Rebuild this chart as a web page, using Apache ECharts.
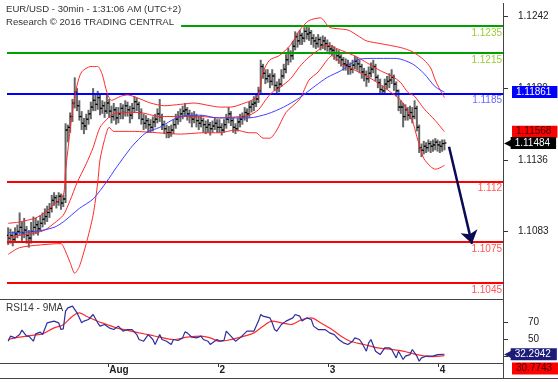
<!DOCTYPE html>
<html><head><meta charset="utf-8">
<script src="https://cdn.jsdelivr.net/npm/echarts@6/dist/echarts.min.js"></script>
<style>html,body{margin:0;padding:0;background:#fff}#c{width:558px;height:382px}</style>
</head><body><div id="c"></div>
<script>
// ---------- DATA ----------
const slotCount = 216;
const dayStartIndex = [44, 92, 140, 188];
const dayLabels = ['Aug', '2', '3', '4'];
const priceTicks = [1.1083, 1.1136, 1.1189, 1.1242];
const rsiTicks = [30, 50, 70];
const levelValues = [1.1235, 1.1215, 1.1185, 1.112, 1.1075, 1.1045];
const levelKinds = ['resistance', 'resistance', 'pivot', 'support', 'support', 'support'];
const lastMA = 1.11861, lastMid = 1.11568, lastPrice = 1.11484;
const lastRsi = 32.2942, lastRsiMA = 30.7743;
const arrowFrom = [192, 1.11457], arrowTo = [202, 1.10738];

// [open, high, low, close], one per 30-min bar
const ohlc = [
[1.1080,1.1086,1.1073,1.1078],[1.1078,1.1085,1.1074,1.1080],[1.1080,1.1083,1.1072,1.1077],[1.1077,1.1086,1.1075,1.1081],
[1.1081,1.1088,1.1078,1.1083],[1.1083,1.1097,1.1080,1.1086],[1.1086,1.1090,1.1076,1.1082],[1.1082,1.1093,1.1078,1.1084],
[1.1084,1.1087,1.1074,1.1080],[1.1080,1.1084,1.1071,1.1078],[1.1078,1.1090,1.1074,1.1083],[1.1083,1.1094,1.1080,1.1086],
[1.1086,1.1093,1.1081,1.1088],[1.1088,1.1091,1.1080,1.1085],[1.1085,1.1095,1.1083,1.1089],[1.1089,1.1097,1.1086,1.1092],
[1.1092,1.1100,1.1088,1.1094],[1.1094,1.1102,1.1090,1.1097],[1.1097,1.1104,1.1093,1.1100],[1.1100,1.1110,1.1097,1.1106],
[1.1106,1.1112,1.1102,1.1108],[1.1108,1.1110,1.1100,1.1105],[1.1105,1.1112,1.1102,1.1109],[1.1109,1.1111,1.1099,1.1104],
[1.1104,1.1110,1.1101,1.1107],[1.1107,1.1163,1.1104,1.1158],[1.1158,1.1162,1.1149,1.1160],[1.1160,1.1171,1.1156,1.1168],
[1.1168,1.1181,1.1164,1.1178],[1.1178,1.1197,1.1174,1.1186],[1.1186,1.1189,1.1172,1.1176],[1.1176,1.1180,1.1165,1.1168],
[1.1168,1.1172,1.1158,1.1163],[1.1163,1.1167,1.1155,1.1161],[1.1161,1.1170,1.1158,1.1166],[1.1166,1.1173,1.1162,1.1170],
[1.1170,1.1179,1.1166,1.1175],[1.1175,1.1189,1.1172,1.1180],[1.1180,1.1184,1.1172,1.1177],[1.1177,1.1187,1.1173,1.1182],
[1.1182,1.1184,1.1169,1.1174],[1.1174,1.1180,1.1170,1.1176],[1.1176,1.1179,1.1167,1.1172],[1.1172,1.1184,1.1170,1.1178],
[1.1178,1.1181,1.1167,1.1172],[1.1172,1.1176,1.1163,1.1168],[1.1168,1.1178,1.1165,1.1173],[1.1173,1.1175,1.1162,1.1167],
[1.1167,1.1175,1.1163,1.1170],[1.1170,1.1178,1.1166,1.1174],[1.1174,1.1177,1.1166,1.1171],[1.1171,1.1180,1.1168,1.1176],
[1.1176,1.1179,1.1168,1.1173],[1.1173,1.1176,1.1163,1.1169],[1.1169,1.1178,1.1166,1.1174],[1.1174,1.1183,1.1171,1.1179],
[1.1179,1.1182,1.1172,1.1177],[1.1177,1.1179,1.1166,1.1171],[1.1171,1.1174,1.1162,1.1166],[1.1166,1.1170,1.1158,1.1163],
[1.1163,1.1169,1.1159,1.1165],[1.1165,1.1167,1.1156,1.1162],[1.1162,1.1166,1.1156,1.1160],[1.1160,1.1168,1.1157,1.1164],
[1.1164,1.1170,1.1160,1.1166],[1.1166,1.1174,1.1163,1.1170],[1.1170,1.1181,1.1164,1.1168],[1.1168,1.1170,1.1158,1.1162],
[1.1162,1.1165,1.1155,1.1159],[1.1159,1.1162,1.1152,1.1156],[1.1156,1.1161,1.1152,1.1156],[1.1156,1.1162,1.1153,1.1158],
[1.1158,1.1166,1.1155,1.1162],[1.1162,1.1170,1.1159,1.1166],[1.1166,1.1172,1.1162,1.1168],[1.1168,1.1174,1.1164,1.1170],
[1.1170,1.1176,1.1166,1.1172],[1.1172,1.1178,1.1168,1.1173],[1.1173,1.1175,1.1165,1.1170],[1.1170,1.1173,1.1163,1.1168],
[1.1168,1.1171,1.1160,1.1166],[1.1166,1.1172,1.1163,1.1168],[1.1168,1.1170,1.1160,1.1165],[1.1165,1.1168,1.1158,1.1163],
[1.1163,1.1169,1.1160,1.1165],[1.1165,1.1167,1.1156,1.1162],[1.1162,1.1165,1.1155,1.1160],[1.1160,1.1166,1.1156,1.1162],
[1.1162,1.1164,1.1154,1.1159],[1.1159,1.1165,1.1156,1.1161],[1.1161,1.1167,1.1158,1.1163],[1.1163,1.1166,1.1156,1.1160],
[1.1160,1.1166,1.1156,1.1160],[1.1160,1.1163,1.1154,1.1158],[1.1158,1.1166,1.1156,1.1162],[1.1162,1.1170,1.1159,1.1166],
[1.1166,1.1175,1.1163,1.1170],[1.1170,1.1172,1.1161,1.1165],[1.1165,1.1167,1.1156,1.1160],[1.1160,1.1163,1.1155,1.1159],
[1.1159,1.1167,1.1157,1.1164],[1.1164,1.1170,1.1160,1.1166],[1.1166,1.1171,1.1162,1.1168],[1.1168,1.1175,1.1165,1.1171],
[1.1171,1.1174,1.1164,1.1170],[1.1170,1.1179,1.1167,1.1175],[1.1175,1.1180,1.1171,1.1177],[1.1177,1.1183,1.1172,1.1178],
[1.1178,1.1185,1.1175,1.1181],[1.1181,1.1190,1.1178,1.1187],[1.1187,1.1210,1.1184,1.1205],[1.1205,1.1207,1.1196,1.1200],
[1.1200,1.1203,1.1192,1.1196],[1.1196,1.1203,1.1193,1.1198],[1.1198,1.1200,1.1189,1.1194],[1.1194,1.1203,1.1191,1.1198],
[1.1198,1.1200,1.1187,1.1191],[1.1191,1.1194,1.1185,1.1189],[1.1189,1.1196,1.1186,1.1192],[1.1192,1.1203,1.1190,1.1198],
[1.1198,1.1207,1.1196,1.1203],[1.1203,1.1214,1.1200,1.1210],[1.1210,1.1219,1.1206,1.1215],[1.1215,1.1217,1.1208,1.1213],
[1.1213,1.1224,1.1210,1.1220],[1.1220,1.1231,1.1217,1.1227],[1.1227,1.1230,1.1219,1.1224],[1.1224,1.1232,1.1221,1.1228],
[1.1228,1.1230,1.1221,1.1226],[1.1226,1.1234,1.1223,1.1231],[1.1231,1.1235,1.1225,1.1229],[1.1229,1.1234,1.1224,1.1230],
[1.1230,1.1232,1.1221,1.1226],[1.1226,1.1229,1.1219,1.1224],[1.1224,1.1227,1.1218,1.1222],[1.1222,1.1229,1.1219,1.1225],
[1.1225,1.1227,1.1217,1.1221],[1.1221,1.1228,1.1218,1.1224],[1.1224,1.1227,1.1217,1.1222],[1.1222,1.1225,1.1216,1.1220],
[1.1220,1.1223,1.1214,1.1218],[1.1218,1.1221,1.1213,1.1217],[1.1217,1.1220,1.1210,1.1215],[1.1215,1.1218,1.1209,1.1213],
[1.1213,1.1217,1.1207,1.1212],[1.1212,1.1214,1.1205,1.1210],[1.1210,1.1212,1.1202,1.1207],[1.1207,1.1211,1.1202,1.1206],
[1.1206,1.1210,1.1199,1.1205],[1.1205,1.1208,1.1199,1.1203],[1.1203,1.1210,1.1200,1.1206],[1.1206,1.1213,1.1203,1.1209],
[1.1209,1.1212,1.1202,1.1207],[1.1207,1.1210,1.1200,1.1205],[1.1205,1.1207,1.1196,1.1201],[1.1201,1.1204,1.1194,1.1199],
[1.1199,1.1202,1.1190,1.1196],[1.1196,1.1205,1.1193,1.1200],[1.1200,1.1208,1.1197,1.1203],[1.1203,1.1210,1.1200,1.1205],
[1.1205,1.1207,1.1194,1.1197],[1.1197,1.1199,1.1189,1.1193],[1.1193,1.1196,1.1185,1.1188],[1.1188,1.1191,1.1184,1.1187],
[1.1187,1.1196,1.1185,1.1192],[1.1192,1.1198,1.1188,1.1194],[1.1194,1.1200,1.1189,1.1195],[1.1195,1.1203,1.1192,1.1197],
[1.1197,1.1199,1.1187,1.1192],[1.1192,1.1194,1.1183,1.1187],[1.1187,1.1188,1.1172,1.1175],[1.1175,1.1180,1.1170,1.1175],
[1.1175,1.1178,1.1160,1.1168],[1.1168,1.1177,1.1165,1.1173],[1.1173,1.1175,1.1165,1.1169],[1.1169,1.1176,1.1166,1.1171],
[1.1171,1.1175,1.1163,1.1168],[1.1168,1.1180,1.1166,1.1174],[1.1174,1.1176,1.1157,1.1160],[1.1160,1.1162,1.1141,1.1145],
[1.1145,1.1148,1.1138,1.1143],[1.1143,1.1150,1.1140,1.1146],[1.1146,1.1149,1.1141,1.1145],[1.1145,1.1151,1.1142,1.1148],
[1.1148,1.1150,1.1141,1.1146],[1.1146,1.1151,1.1142,1.1147],[1.1147,1.1152,1.1143,1.1149],[1.1149,1.1151,1.1142,1.1147],
[1.1147,1.1150,1.1141,1.1146],[1.1146,1.1151,1.1142,1.1148],[1.1148,1.1151,1.1143,1.11484]
];

// Bollinger bands and long moving average, read at sampled bars: [barIndex, price]
const upperBand = [[0,1.1089],[5,1.1090],[12,1.1093],[16,1.1097],[20,1.1103],[24,1.1110],[25,1.1128],[26,1.1143],[28,1.1172],[30,1.1191],[32,1.1201],[36,1.1205],[39,1.1205],[41,1.1199],[43,1.1186],[45,1.1180],[49,1.1183],[52,1.1184],[56,1.1182],[62,1.1178],[68,1.1176],[75,1.1177],[81,1.1178],[88,1.1176],[92,1.1175],[97,1.1175],[103,1.1178],[106,1.1180],[109,1.1184],[111,1.1201],[114,1.1210],[118,1.1213],[123,1.1221],[127,1.1232],[131,1.1239],[136,1.1241],[140,1.1234],[148,1.1232],[153,1.1227],[156,1.1224],[162,1.1222],[171,1.1219],[176,1.1216],[181,1.1210],[184,1.1204],[186,1.1195],[188,1.1188],[190,1.1182]];
const middleBand = [[0,1.1078],[5,1.1080],[12,1.1082],[16,1.1084],[20,1.1089],[24,1.1095],[27,1.1106],[30,1.1119],[34,1.1133],[37,1.1145],[40,1.1160],[43,1.1166],[46,1.1170],[51,1.1171],[57,1.1171],[66,1.1168],[75,1.1168],[84,1.1168],[92,1.1167],[101,1.1168],[105,1.1169],[109,1.1173],[112,1.1180],[115,1.1186],[118,1.1189],[123,1.1196],[127,1.1205],[131,1.1212],[135,1.1217],[138,1.1221],[145,1.1217],[152,1.1212],[156,1.1208],[162,1.1202],[167,1.1198],[171,1.1193],[174,1.1186],[177,1.1183],[181,1.1174],[186,1.1165],[190,1.11568]];
const lowerBand = [[0,1.1066],[5,1.1071],[14,1.1073],[23,1.1074],[24,1.1072],[27,1.1060],[29,1.1052],[31,1.1057],[34,1.1074],[37,1.1095],[39,1.1119],[40,1.1136],[42,1.1151],[44,1.1160],[46,1.1157],[55,1.1157],[65,1.1156],[75,1.1155],[85,1.1156],[92,1.1156],[99,1.1158],[105,1.1156],[108,1.1156],[111,1.1152],[114,1.1152],[117,1.1158],[121,1.1171],[127,1.1181],[131,1.1195],[135,1.1201],[139,1.1210],[141,1.1213],[146,1.1206],[150,1.1203],[155,1.1199],[160,1.1194],[165,1.1188],[169,1.1183],[172,1.1178],[176,1.1165],[178,1.1153],[181,1.1137],[184,1.1131],[186,1.1129],[188,1.1130],[190,1.1132]];
const longMA = [[0,1.1082],[12,1.1083],[20,1.1086],[24,1.1090],[31,1.1100],[37,1.1107],[43,1.1120],[47,1.1130],[54,1.1146],[60,1.1156],[66,1.1160],[71,1.1165],[75,1.1168],[84,1.1169],[91,1.1167],[98,1.1167],[105,1.1167],[113,1.1170],[120,1.1175],[127,1.1182],[134,1.1191],[139,1.1197],[145,1.1202],[152,1.1210],[158,1.1211],[169,1.1211],[176,1.1207],[181,1.1200],[186,1.1190],[190,1.11861]];

// RSI(14) and its 9-period MA: [barIndex, value]
const rsi = [[0,47.6],[1,53.5],[3,51.5],[5,55.4],[6,60.6],[8,53.5],[9,53.5],[11,47.6],[12,56.2],[14,58.2],[15,55.4],[17,69.2],[20,71.2],[22,69.2],[23,61.3],[24,62.0],[25,82.9],[26,86.8],[28,88.8],[30,80.9],[32,69.2],[33,71.2],[35,73.1],[37,79.0],[39,69.2],[40,65.3],[42,67.2],[44,63.3],[46,61.3],[48,65.3],[50,59.4],[52,61.3],[54,61.3],[56,55.4],[57,49.6],[59,47.6],[61,55.4],[63,49.6],[64,43.7],[66,55.4],[67,49.6],[69,47.6],[71,43.7],[72,49.6],[74,48.4],[76,51.5],[77,58.6],[78,57.4],[80,52.3],[82,51.5],[84,53.5],[85,49.6],[87,47.6],[88,43.7],[89,45.7],[91,49.6],[92,47.6],[94,48.5],[95,59.4],[97,53.5],[99,47.6],[101,51.5],[104,59.4],[107,59.4],[109,71.2],[110,79.0],[111,77.0],[114,75.0],[115,69.2],[116,61.3],[117,59.4],[119,67.2],[121,71.2],[124,75.0],[125,79.0],[127,77.0],[128,71.2],[130,75.0],[132,73.1],[133,65.3],[135,61.3],[138,61.3],[140,57.4],[142,55.4],[144,49.6],[146,45.7],[148,43.7],[150,47.6],[151,51.5],[153,49.6],[154,45.7],[156,35.9],[157,45.7],[158,49.6],[160,35.9],[162,31.9],[164,39.8],[166,39.8],[167,37.9],[169,28.0],[170,35.9],[172,26.1],[173,30.0],[175,31.9],[176,37.9],[178,30.0],[179,24.1],[180,28.0],[182,30.0],[185,30.0],[187,31.9],[190,32.2942]];
const rsiMA = [[0,49.6],[5,52.3],[11,54.7],[15,56.2],[20,63.3],[24,67.0],[28,77.0],[31,80.9],[34,77.0],[39,71.0],[43,67.2],[47,63.3],[52,60.3],[57,57.4],[62,54.7],[66,52.3],[72,49.6],[78,52.3],[84,53.5],[88,51.5],[92,47.6],[95,48.4],[100,51.5],[107,57.4],[111,65.3],[115,71.2],[119,69.2],[123,67.2],[128,73.1],[132,75.0],[136,69.2],[141,61.3],[145,53.5],[149,47.6],[155,43.7],[161,39.8],[167,37.9],[172,35.9],[178,31.9],[184,29.5],[190,30.7743]];

// ---------- CHART ----------
const FONT = '"Liberation Sans", Arial, Helvetica, sans-serif';
const categories = Array.from({length: slotCount}, (_, i) => 'b' + i);
const isDayStart = (i) => dayStartIndex.indexOf(i) >= 0;
const kindStyle = {
  resistance: {line: '#00a000', label: '#99cc33'},
  pivot: {line: '#0000ff', label: '#6a6aff'},
  support: {line: '#ff0000', label: '#ff5555'}
};
const RED = '#ff2a2a';
const BLUE_MA = '#4040ff';

function tag(value, bg, fg, withArrow, shiftDown) {
  const txt = (shiftDown ? '{e| }\n' : '') + (withArrow ? '{a|\u25C0}' : '') + '{b|' + value + '}';
  return {
    yAxis: value,
    lineStyle: {color: 'rgba(0,0,0,0)', width: 0},
    label: {
      show: true, position: 'end', distance: withArrow ? 1 : 9,
      formatter: txt,
      rich: {
        e: {lineHeight: 26, fontSize: 10},
        a: {color: bg, fontSize: 10, fontFamily: 'DejaVu Sans', lineHeight: 12, padding: [0, -1, 0, 0]},
        b: {backgroundColor: bg, color: fg, fontSize: 10, fontFamily: FONT, lineHeight: 12, padding: [1, 6, 1, 4]}
      }
    }
  };
}

const levelLines = levelValues.map((v, k) => ({
  yAxis: v,
  lineStyle: {color: kindStyle[levelKinds[k]].line, width: 2, type: 'solid'},
  label: {show: true, position: 'insideEndBottom', distance: [1, 2], formatter: String(v),
    color: kindStyle[levelKinds[k]].label, fontSize: 10, fontFamily: FONT}
}));

const chart = echarts.init(document.getElementById('c'), null, {renderer: 'canvas'});
chart.setOption({
  animation: false,
  backgroundColor: '#fff',
  textStyle: {fontFamily: FONT},
  title: [
    {text: 'EUR/USD - 30min - 1:31:06 AM (UTC+2)\nResearch \u00A9 2016 TRADING CENTRAL', left: 6, top: 3,
     padding: [0, 0, 3, 0], backgroundColor: '#fff',
     textStyle: {fontSize: 9.6, lineHeight: 13, color: '#333', fontWeight: 'normal', fontFamily: FONT}},
    {text: 'RSI14 - 9MA', left: 6, top: 302, padding: 0,
     textStyle: {fontSize: 10, lineHeight: 12, color: '#333', fontWeight: 'normal', fontFamily: FONT}}
  ],
  grid: [
    {left: 7, right: 55, top: 3, height: 296, outerBoundsMode: 'none'},
    {left: 7, right: 55, top: 300, height: 63, outerBoundsMode: 'none'}
  ],
  xAxis: [
    {type: 'category', gridIndex: 0, data: categories, boundaryGap: true, show: false},
    {type: 'category', gridIndex: 1, data: categories, boundaryGap: true,
     axisLine: {show: false},
     axisTick: {show: true, interval: (i) => isDayStart(i), length: 4, lineStyle: {color: '#333'}},
     axisLabel: {interval: (i) => isDayStart(i),
       formatter: (v, i) => dayLabels[dayStartIndex.indexOf(i)] || '',
       align: 'left', margin: 2, fontSize: 10, fontWeight: 'bold', color: '#222', fontFamily: FONT},
     splitLine: {show: false}}
  ],
  yAxis: [
    {type: 'value', gridIndex: 0, position: 'right', min: 1.1033, max: 1.1252, scale: true,
     axisLine: {show: false}, splitLine: {show: false},
     axisTick: {show: true, length: 5, lineStyle: {color: '#333'}, customValues: priceTicks},
     axisLabel: {margin: 15, fontSize: 10, color: '#222', fontFamily: FONT, customValues: priceTicks,
       formatter: (v) => v.toFixed(4)}},
    {type: 'value', gridIndex: 1, position: 'right', min: 22, max: 96,
     axisLine: {show: false}, splitLine: {show: false},
     axisTick: {show: true, length: 5, lineStyle: {color: '#333'}, customValues: rsiTicks},
     axisLabel: {margin: 25, fontSize: 10, color: '#222', fontFamily: FONT, customValues: rsiTicks}}
  ],
  graphic: [
    {type: 'line', z: 100, silent: true, shape: {x1: 0, y1: 299.5, x2: 503.5, y2: 299.5}, style: {stroke: '#444', lineWidth: 1}},
    {type: 'line', z: 100, silent: true, shape: {x1: 0, y1: 363.5, x2: 503.5, y2: 363.5}, style: {stroke: '#444', lineWidth: 1}},
    {type: 'line', z: 100, silent: true, shape: {x1: 0, y1: 378.5, x2: 558, y2: 378.5}, style: {stroke: '#444', lineWidth: 1}},
    {type: 'line', z: 100, silent: true, shape: {x1: 503.5, y1: 3, x2: 503.5, y2: 378.5}, style: {stroke: '#444', lineWidth: 1}}
  ],
  series: [
    {
      name: 'EUR/USD', type: 'custom', xAxisIndex: 0, yAxisIndex: 0, z: 4, silent: true, clip: true,
      data: ohlc.map((r, i) => [i, r[0], r[1], r[2], r[3]]),
      encode: {x: 0, y: [1, 2, 3, 4]},
      renderItem: (params, api) => {
        const i = api.value(0);
        const o = api.coord([i, api.value(1)]);
        const h = api.coord([i, api.value(2)]);
        const l = api.coord([i, api.value(3)]);
        const c = api.coord([i, api.value(4)]);
        return {type: 'group', children: [
          {type: 'line', shape: {x1: h[0], y1: h[1], x2: l[0], y2: l[1]}, style: {stroke: '#666', lineWidth: 2}},
          {type: 'line', shape: {x1: o[0] - 2, y1: o[1], x2: o[0], y2: o[1]}, style: {stroke: '#000', lineWidth: 1.2}},
          {type: 'line', shape: {x1: c[0], y1: c[1], x2: c[0] + 2, y2: c[1]}, style: {stroke: '#000', lineWidth: 1.2}}
        ]};
      }
    },
    {name: 'BB upper', type: 'line', xAxisIndex: 0, yAxisIndex: 0, data: upperBand, showSymbol: false, smooth: 0.25,
     silent: true, z: 5, lineStyle: {color: RED, width: 1}},
    {name: 'BB middle', type: 'line', xAxisIndex: 0, yAxisIndex: 0, data: middleBand, showSymbol: false, smooth: 0.25,
     silent: true, z: 5, lineStyle: {color: RED, width: 1},
     markLine: {silent: true, precision: 6, symbol: ['none', 'none'], animation: false,
       data: levelLines.concat([tag(lastMid, '#ff0000', '#300', false, false)])}},
    {name: 'BB lower', type: 'line', xAxisIndex: 0, yAxisIndex: 0, data: lowerBand, showSymbol: false, smooth: 0.25,
     silent: true, z: 5, lineStyle: {color: RED, width: 1},
     markLine: {silent: true, precision: 6, symbol: ['none', 'none'], animation: false,
       data: [tag(lastPrice, '#000', '#fff', true, false)]}},
    {name: 'MA', type: 'line', xAxisIndex: 0, yAxisIndex: 0, data: longMA, showSymbol: false, smooth: 0.25,
     silent: true, z: 5, lineStyle: {color: BLUE_MA, width: 1},
     markLine: {silent: true, precision: 6, symbol: ['none', 'none'], animation: false,
       data: [tag(lastMA, '#0000ff', '#fff', false, false)]}},
    {name: 'Forecast', type: 'line', xAxisIndex: 0, yAxisIndex: 0, data: [], silent: true, z: 6,
     markLine: {silent: true, precision: 6, symbol: ['none', 'arrow'], symbolSize: 13, animation: false,
       label: {show: false},
       lineStyle: {color: '#0a0a55', width: 2.5, type: 'solid'},
       data: [[{coord: arrowFrom}, {coord: arrowTo}]]}},
    {name: 'RSI14', type: 'line', xAxisIndex: 1, yAxisIndex: 1, data: rsi, showSymbol: false,
     silent: true, z: 5, lineStyle: {color: '#2e2e9e', width: 1.2},
     markLine: {silent: true, precision: 6, symbol: ['none', 'none'], animation: false,
       data: [tag(lastRsi, '#1c1c78', '#fff', true, false)]}},
    {name: '9MA', type: 'line', xAxisIndex: 1, yAxisIndex: 1, data: rsiMA, showSymbol: false, smooth: 0.3,
     silent: true, z: 4, lineStyle: {color: RED, width: 1.2},
     markLine: {silent: true, precision: 6, symbol: ['none', 'none'], animation: false,
       data: [tag(lastRsiMA, '#ff0000', '#300', false, true)]}}
  ]
});
</script></body></html>
